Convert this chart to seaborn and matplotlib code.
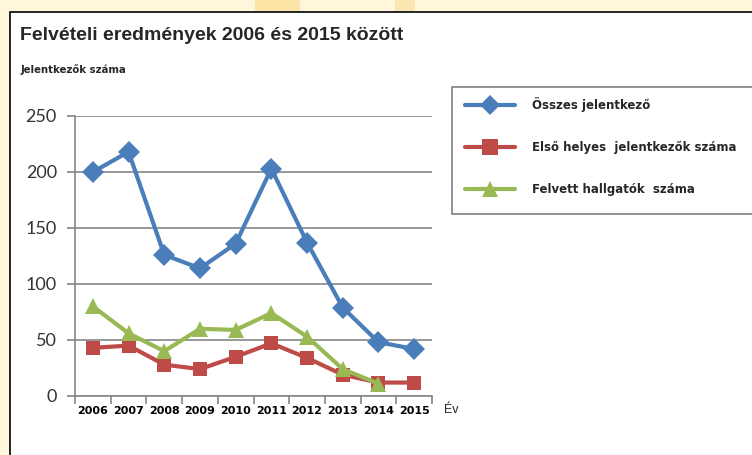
import matplotlib
matplotlib.use("Agg")
import matplotlib.pyplot as plt
from matplotlib.patches import Rectangle
from matplotlib.ticker import FixedLocator, NullFormatter
from matplotlib.lines import Line2D
import seaborn as sns
import pandas as pd
import numpy as np

years = [2006, 2007, 2008, 2009, 2010, 2011, 2012, 2013, 2014, 2015]
osszes = [200, 218, 126, 114, 136, 203, 137, 79, 48, 42]
elso_helyes = [43, 45, 28, 24, 35, 47, 34, 19, 12, 12]
felvett = [80, 56, 40, 60, 59, 74, 53, 24, 11, None]

names = ["Összes jelentkező", "Első helyes  jelentkezők száma", "Felvett hallgatók  száma"]
colors = ["#4A7EBB", "#BE4B48", "#98B954"]
markers = ["D", "s", "^"]
yticks = [0, 50, 100, 150, 200, 250]

rows = []
for name, vals in zip(names, [osszes, elso_helyes, felvett]):
    for y, v in zip(years, vals):
        if v is not None:
            rows.append({"Év": y, "Érték": v, "Sorozat": name})
df = pd.DataFrame(rows)

sns.set_theme(style="white")
plt.rcParams["font.family"] = ["Liberation Sans", "DejaVu Sans"]

W, H = 752, 455
fig = plt.figure(figsize=(W / 100, H / 100), dpi=100)
fig.patch.set_facecolor("#FFF6DC")

# white framed area and legend frame (background axes)
bg = fig.add_axes([0, 0, 1, 1], zorder=-5)
bg.set_xlim(0, W)
bg.set_ylim(H, 0)
bg.axis("off")
bg.add_patch(Rectangle((10, 12), W + 20, H + 20, facecolor="white", edgecolor="black", linewidth=1.2))
bg.add_patch(Rectangle((255, 0), 45, 11, facecolor="#FCE3A6", edgecolor="none"))
bg.add_patch(Rectangle((395, 0), 20, 11, facecolor="#FCE7B4", edgecolor="none"))
bg.add_patch(Rectangle((452, 87), 320, 127, facecolor="white", edgecolor="#7F7F7F", linewidth=1.2))

ax = fig.add_axes([75 / W, 1 - 396 / H, (432 - 75) / W, (396 - 116) / H], zorder=1)
ax.set_facecolor("white")

sns.lineplot(data=df, x="Év", y="Érték", hue="Sorozat", style="Sorozat",
             palette=dict(zip(names, colors)), markers=dict(zip(names, markers)),
             dashes=False, linewidth=3, markersize=10, markeredgewidth=0,
             ax=ax, legend=False, sort=False)
for line, ms in zip(ax.get_lines(), [11, 10, 12]):
    line.set_markersize(ms)

ax.set_xlim(2005.5, 2015.5)
ax.set_ylim(0, 250)
ax.set_yticks(yticks)
ax.set_xticks(years)
ax.xaxis.set_minor_locator(FixedLocator(np.arange(2005.5, 2016, 1.0)))
ax.xaxis.set_minor_formatter(NullFormatter())
ax.tick_params(axis="x", which="major", bottom=True, length=0, pad=7, labelsize=8, colors="black")
ax.tick_params(axis="x", which="minor", bottom=True, length=6, width=1.2, color="#868686",
               direction="out")
ax.tick_params(axis="y", which="major", left=True, length=6, width=1.2, color="#868686",
               direction="out", pad=7, labelsize=13, labelcolor="#333333")
for lbl in ax.get_xticklabels():
    lbl.set_fontweight("bold")
    lbl.set_fontfamily(["DejaVu Sans"])
for lbl in ax.get_yticklabels():
    lbl.set_fontfamily(["Lato", "DejaVu Sans"])
ax.grid(axis="y", color="#868686", linewidth=1.2)
ax.set_axisbelow(True)
for s in ["top", "right"]:
    ax.spines[s].set_visible(False)
for s in ["left", "bottom"]:
    ax.spines[s].set_color("#868686")
    ax.spines[s].set_linewidth(1.2)
ax.set_xlabel("")
ax.set_ylabel("")

fig.text(20 / W, 1 - 35 / H, "Felvételi eredmények 2006 és 2015 között", fontsize=14,
         fontweight="bold", va="center", ha="left")
fig.text(20 / W, 1 - 70 / H, "Jelentkezők száma", fontsize=7.3, fontweight="bold",
         va="center", ha="left", family=["DejaVu Sans"])
fig.text(444 / W, 1 - 410 / H, "Év", fontsize=9, va="center", ha="left")

handles = [Line2D([0], [0], color=c, marker=m, linewidth=3, markersize=ms, markeredgewidth=0)
           for c, m, ms in zip(colors, markers, [10, 11, 12])]
leg = fig.legend(handles, names, loc="upper left",
                 bbox_to_anchor=(452 / W, 1 - 84 / H, (760 - 452) / W, 0.0),
                 mode="expand", frameon=False,
                 handlelength=4.2, handletextpad=1.5, borderpad=0.6, labelspacing=2.45,
                 prop={"family": "DejaVu Sans", "weight": "bold", "size": 8.5})

fig.savefig("out.png", dpi=100)
